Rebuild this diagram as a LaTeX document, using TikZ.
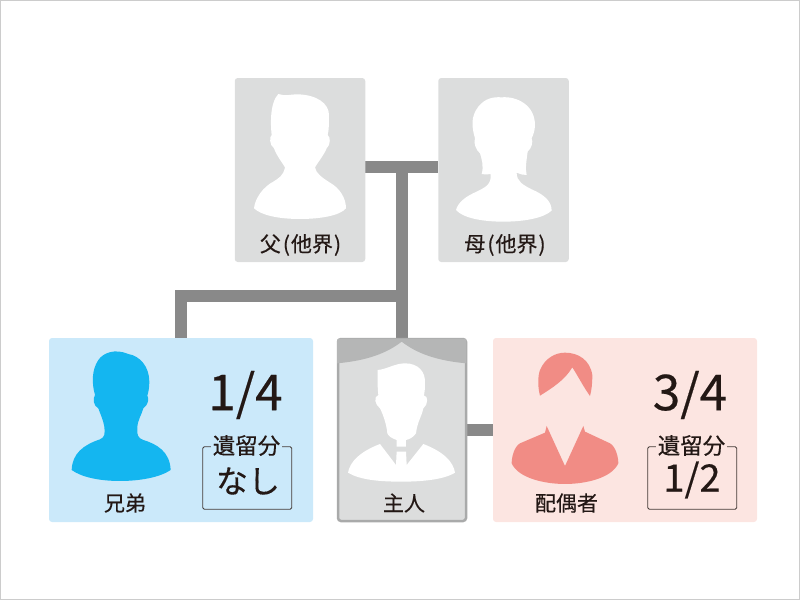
\documentclass[tikz,border=0pt]{standalone}
\usepackage{fontspec}
\setmainfont[FakeBold=0.35]{Noto Sans CJK JP}
\usetikzlibrary{positioning,backgrounds}
\definecolor{cardgray}{HTML}{DCDDDD}
\definecolor{linegray}{HTML}{898989}
\definecolor{selfedge}{HTML}{A9AAAA}
\definecolor{selfband}{HTML}{B5B6B6}
\definecolor{bluecard}{HTML}{CBE9FA}
\definecolor{bluefig}{HTML}{14B6F0}
\definecolor{pinkcard}{HTML}{FCE5E1}
\definecolor{pinkfig}{HTML}{F18C85}
\definecolor{inktext}{HTML}{231815}
\begin{document}
\begin{tikzpicture}[x=1pt, y=-1pt,
    parentcard/.style={
        rectangle,
        fill=cardgray,
        minimum width=130.5pt,
        minimum height=184pt,
        inner sep=0pt,
        outer sep=0pt,
        rounded corners=3pt
    },
    selfcard/.style={
        parentcard,
        minimum width=128pt,
        minimum height=182pt,
        draw=selfedge,
        line width=2.5pt
    },
    heir/.style={
        rectangle,
        minimum width=264pt,
        minimum height=184pt,
        inner sep=0pt,
        outer sep=0pt,
        rounded corners=3pt
    },
    link/.style={
        linegray,
        line width=12pt
    },
    keptframe/.style={
        rectangle,
        draw=inktext!85,
        line width=0.8pt,
        minimum width=89pt,
        minimum height=62.5pt,
        inner sep=0pt,
        rounded corners=1.5pt
    },
    crop/.style 2 args={shift={(#1,#2)}, x=0.3333pt, y=-0.3333pt},
    whotext/.style={text=inktext, inner sep=0pt, font=\fontsize{21}{21}\selectfont},
    sharetext/.style={text=inktext, inner sep=0pt, font=\fontsize{49.5}{50}\selectfont},
    kepttext/.style={text=inktext, inner sep=0pt, font=\fontsize{22.5}{23}\selectfont},
    keptvalue/.style={text=inktext, inner sep=0pt, font=\fontsize{38}{38}\selectfont}
]
    \useasboundingbox (0,0) rectangle (800,600);
    \draw[line width=1pt, black!20] (0.5,0.5) rectangle (799.5,599.5);

    % Parents
    \node[parentcard] (father) at (300,170) {};
    \node[parentcard] (mother) [right=73pt of father] {};

    % Deceased person and heirs
    \node[selfcard] (self) at (402,430) {};
    \node[heir, fill=bluecard] (sibling) at (181,430) {};
    \node[heir, fill=pinkcard] (spouse) at (625,430) {};

    % Connectors
    \coordinate (couple) at (402,167);
    \coordinate (branch) at (402,296);
    \begin{pgfonlayer}{background}
        \draw[link] (father.east |- couple) -- (mother.west |- couple);
        \draw[link] (couple) -- (self.north);
        \draw[link] (branch) -| (sibling.north);
        \draw[link] (self.east) -- (spouse.west);
    \end{pgfonlayer}

    % Father figure
    \begin{scope}[crop={230}{70}]
        \fill[white] (145,72) .. controls (165,80) and (185,72) .. (205,73) .. controls (260,75) and (297,100) .. (297,135) .. controls (297,160) and (297,180) .. (293,195) .. controls (302,200) and (302,225) .. (290,235) .. controls (282,255) and (265,275) .. (255,292) .. controls (258,310) and (275,322) .. (300,338) .. controls (330,355) and (348,385) .. (348,415) .. controls (330,437) and (270,447) .. (210,447) .. controls (150,447) and (95,437) .. (72,415) .. controls (75,385) and (100,350) .. (130,335) .. controls (145,325) and (160,318) .. (165,292) .. controls (155,275) and (140,258) .. (132,235) .. controls (118,225) and (118,200) .. (125,195) .. controls (122,170) and (118,100) .. (145,72) -- cycle;
    \end{scope}

    % Mother figure
    \begin{scope}[crop={230}{70}]
        \fill[white] (735,205) .. controls (725,170) and (722,140) .. (745,110) .. controls (765,85) and (790,80) .. (815,82) .. controls (860,78) and (915,105) .. (915,165) .. controls (915,180) and (910,195) .. (905,205) .. controls (910,215) and (905,235) .. (893,245) .. controls (890,270) and (885,295) .. (890,315) .. controls (880,316) and (870,312) .. (860,308) .. controls (860,335) and (880,345) .. (905,358) .. controls (945,375) and (965,395) .. (965,422) .. controls (940,445) and (880,455) .. (820,455) .. controls (760,455) and (700,445) .. (678,420) .. controls (685,395) and (710,378) .. (740,365) .. controls (765,352) and (785,345) .. (782,312) .. controls (772,314) and (765,314) .. (755,312) .. controls (762,290) and (755,265) .. (750,250) .. controls (738,240) and (730,220) .. (735,205) -- cycle;
    \end{scope}

    % Sibling figure
    \begin{scope}[crop={40}{330}]
        \fill[bluefig] (165,195) .. controls (155,160) and (155,120) .. (175,90) .. controls (190,68) and (225,55) .. (265,72) .. controls (300,78) and (328,110) .. (328,155) .. controls (328,170) and (326,185) .. (322,197) .. controls (328,205) and (325,225) .. (310,235) .. controls (305,255) and (292,270) .. (292,295) .. controls (290,315) and (295,325) .. (310,330) .. controls (350,342) and (390,365) .. (392,420) .. controls (360,442) and (300,453) .. (240,453) .. controls (180,453) and (125,442) .. (95,420) .. controls (97,370) and (130,345) .. (180,328) .. controls (195,322) and (195,310) .. (193,290) .. controls (190,270) and (180,250) .. (175,235) .. controls (160,228) and (158,205) .. (165,195) -- cycle;
    \end{scope}

    % Self figure with curtain
    \begin{scope}[crop={330}{330}]
        \fill[selfband] (21,100) -- (21,37) [rounded corners=2pt] -- (21,26) -- (409,26) [sharp corners] -- (409,100) .. controls (320,92) and (260,70) .. (215,35) .. controls (170,70) and (110,92) .. (21,100) -- cycle;
        \fill[white] (143,120) .. controls (170,118) and (195,100) .. (225,100) .. controls (265,100) and (287,125) .. (285,160) .. controls (285,175) and (284,185) .. (282,197) .. controls (295,195) and (295,225) .. (280,235) .. controls (275,260) and (262,275) .. (258,310) .. controls (250,322) and (238,328) .. (228,330) -- (228,350) -- (200,350) -- (200,330) .. controls (185,325) and (175,318) .. (172,310) .. controls (170,285) and (160,255) .. (150,235) .. controls (135,225) and (130,200) .. (145,195) .. controls (142,170) and (143,145) .. (143,120) -- cycle;
        \fill[white] (150,342) -- (198,405) -- (200,365) -- (228,365) -- (230,405) -- (280,342) .. controls (340,365) and (370,395) .. (375,428) .. controls (340,450) and (270,455) .. (215,455) .. controls (150,455) and (90,450) .. (54,428) .. controls (60,395) and (90,365) .. (150,342) -- cycle;
    \end{scope}

    % Spouse figure
    \begin{scope}[crop={485}{330}]
        \fill[pinkfig] (165,197) .. controls (158,170) and (158,140) .. (165,120) .. controls (180,85) and (210,68) .. (240,68) .. controls (280,68) and (315,90) .. (322,135) .. controls (322,160) and (320,180) .. (315,198) .. controls (295,170) and (280,140) .. (262,112) .. controls (240,150) and (200,175) .. (165,197) -- cycle;
        \fill[pinkfig] (185,288) -- (240,408) -- (295,288) -- (300,305) -- (375,340) .. controls (392,350) and (400,380) .. (400,400) .. controls (380,445) and (300,462) .. (240,462) .. controls (180,462) and (100,445) .. (80,400) .. controls (80,380) and (88,350) .. (105,340) -- (180,308) -- cycle;
    \end{scope}

    % Names
    \node[whotext] (fatherlabel) at (300.5,245) {父\hspace{2pt}(\hspace{1pt}他界\hspace{1pt})};
    \node[whotext] (motherlabel) at (505,245) {母\hspace{2pt}(\hspace{1pt}他界\hspace{1pt})};
    \node[whotext] (siblinglabel) at (125,503) {兄弟};
    \node[whotext] (selflabel) at (404,503) {主人};
    \node[whotext] (spouselabel) at (566.5,503) {配偶者};

    % Sibling shares
    \node[sharetext] (siblingshare) at (245.5,395) {1/4};
    \node[keptframe] (siblingframe) at (247.2,478) {};
    \node[kepttext, fill=bluecard, inner xsep=2pt] (siblingkept) at (246.5,445.5) {遺留分};
    \node[keptvalue, font=\fontsize{32}{32}\selectfont] (siblingvalue) at (248,481) {なし};

    % Spouse shares
    \node[sharetext] (spouseshare) at (690,395) {3/4};
    \node[keptframe] (spouseframe) at (692.2,478) {};
    \node[kepttext, fill=pinkcard, inner xsep=2pt] (spousekept) at (691.5,445.5) {遺留分};
    \node[keptvalue] (spousevalue) at (692,480) {1/2};
\end{tikzpicture}
\end{document}
